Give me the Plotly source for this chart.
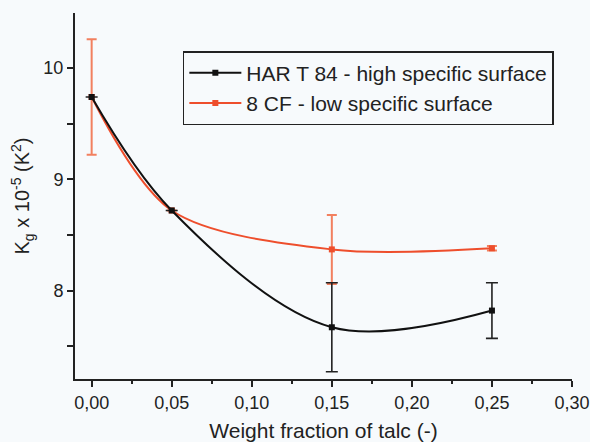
import plotly.graph_objects as go

# Weight fraction of talc and Kg values (x 10^-5 K^2)
talc_fraction = [0.00, 0.05, 0.15, 0.25]

har_kg = [9.74, 8.72, 7.67, 7.82]
har_err = [0.0, 0.0, 0.40, 0.25]

cf_kg = [9.74, 8.72, 8.37, 8.38]
cf_err = [0.52, 0.0, 0.31, 0.02]

har_name = "HAR T 84 - high specific surface"
cf_name = "8 CF - low specific surface"

x_ticks = [0.00, 0.05, 0.10, 0.15, 0.20, 0.25, 0.30]
y_ticks = [8, 9, 10]

FONT = "Liberation Sans, Arial, sans-serif"
TEXT = "#222222"
BG = "#F7FAFC"
RED = "#EE4E2C"
RED_ERR = "#F2805F"

fig = go.Figure()

fig.add_trace(go.Scatter(
    x=talc_fraction, y=cf_kg, name=cf_name, legendrank=2,
    mode="lines+markers",
    line=dict(color=RED, width=2, shape="spline", smoothing=0.9),
    marker=dict(symbol="square", size=6, color=RED),
    error_y=dict(type="data", array=cf_err, visible=True,
                 color=RED_ERR, thickness=2, width=5),
))

fig.add_trace(go.Scatter(
    x=talc_fraction, y=har_kg, name=har_name, legendrank=1,
    mode="lines+markers",
    line=dict(color="#111111", width=2, shape="spline", smoothing=1.0),
    marker=dict(symbol="square", size=6, color="#111111"),
    error_y=dict(type="data", array=har_err, visible=True,
                 color="#222222", thickness=1.6, width=6),
))

fig.update_layout(
    width=590, height=442,
    margin=dict(l=75, r=18, t=13, b=63),
    paper_bgcolor=BG, plot_bgcolor=BG,
    separators=",.",
    font=dict(family=FONT, size=18, color=TEXT),
    legend=dict(
        x=0.217, y=0.896, xanchor="left", yanchor="top",
        bgcolor=BG, bordercolor="#222222", borderwidth=1.5,
        font=dict(size=21, color=TEXT),
        itemwidth=52, tracegroupgap=0,
    ),
    showlegend=True,
)

fig.update_xaxes(
    range=[-0.0104, 0.30],
    automargin=False,
    tickvals=x_ticks, tickformat=".2f",
    ticklabeloverflow="allow",
    ticks="outside", ticklen=6, tickwidth=1.5, tickcolor="#222222",
    minor=dict(dtick=0.025, tick0=0, ticks="outside", ticklen=3,
               tickwidth=1.5, tickcolor="#222222", showgrid=False),
    showline=True, linecolor="#222222", linewidth=2,
    showgrid=False, zeroline=False,
    tickfont=dict(size=18, color=TEXT),
    title=dict(text="Weight fraction of talc (-)", font=dict(size=21, color=TEXT), standoff=13),
)

fig.update_yaxes(
    range=[7.205, 10.495],
    automargin=False,
    tickvals=y_ticks,
    ticks="outside", ticklen=6, tickwidth=1.5, tickcolor="#222222",
    minor=dict(dtick=0.5, tick0=7.5, ticks="outside", ticklen=6,
               tickwidth=1.5, tickcolor="#222222", showgrid=False),
    showline=True, linecolor="#222222", linewidth=2,
    showgrid=False, zeroline=False,
    tickfont=dict(size=18, color=TEXT),
    title=dict(text="K<sub>g</sub> x 10<sup>-5</sup> (K<sup>2</sup>)", font=dict(size=20, color=TEXT), standoff=8),
)

fig.write_html("out.html")
